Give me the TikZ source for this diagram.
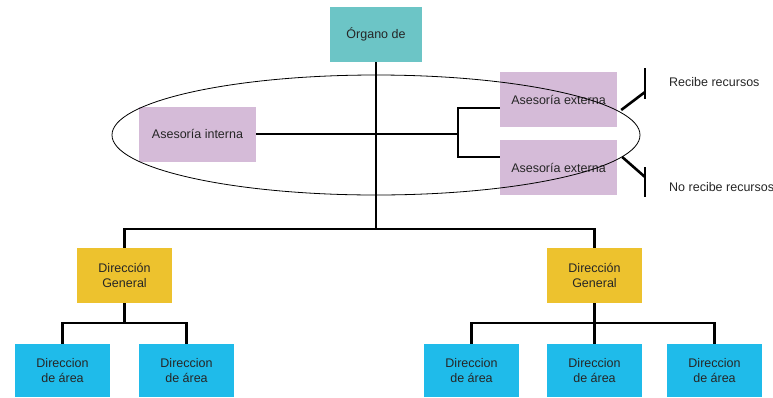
\documentclass[tikz,border=0pt]{standalone}
\usepackage{fontspec}
\setmainfont{Liberation Sans}
\definecolor{teal}{HTML}{6CC5C6}
\definecolor{lilac}{HTML}{D5BBD8}
\definecolor{gold}{HTML}{EDC22E}
\definecolor{sky}{HTML}{1FBBEA}
\begin{document}
\begin{tikzpicture}[x=1pt,y=-1pt,
  box/.style={inner sep=0pt,align=center,font=\fontsize{12.5}{15.5}\selectfont,text=black!85},
  organo/.style={box,fill=teal,minimum width=92pt,minimum height=55pt},
  asesoria/.style={box,fill=lilac,minimum width=117pt,minimum height=55pt},
  general/.style={box,fill=gold,minimum width=95pt,minimum height=55pt},
  area/.style={box,fill=sky,minimum width=95pt,minimum height=53pt},
  link/.style={line width=2.6pt,black},
  label/.style={anchor=west,inner sep=0pt,font=\fontsize{12.5}{14}\selectfont,text=black!85}]
\useasboundingbox (0,0) rectangle (773,397);

% boxes
\node[organo] (org) at (376,34.5) {Órgano de};
\node[asesoria] (ai) at (197.5,134) {Asesoría interna};
\node[asesoria] (ae1) at (558.5,99.5) {Asesoría externa};
\node[asesoria] (ae2) at (558.5,167.5) {Asesoría externa};
\node[general] (dg1) at (124.5,275.5) {Dirección\\General};
\node[general] (dg2) at (594.5,275.5) {Dirección\\General};
\node[area] (a1) at (62.5,370.5) {Direccion\\de área};
\node[area] (a2) at (186.5,370.5) {Direccion\\de área};
\node[area] (a3) at (471.5,370.5) {Direccion\\de área};
\node[area] (a4) at (594.5,370.5) {Direccion\\de área};
\node[area] (a5) at (714.5,370.5) {Direccion\\de área};

% side labels
\node[label] (rr) at (669,82) {Recibe recursos};
\node[label] (nr) at (669,187) {No recibe recursos};

% junctions
\coordinate (bus) at (376,229);
\coordinate (fork) at (458,134);
\coordinate (g1) at (124.5,323);
\coordinate (g2) at (594.5,323);
\coordinate (t1) at (645,92);
\coordinate (t2) at (645,177);

% main trunk and buses
\draw[link] (org.south) -- (bus);
\draw[link] (dg1.north) |- (bus) -| (dg2.north);
\draw[link] (ai.east) -- (ai.east -| org.south);
\draw[link] (org.south |- fork) -- (fork);
\draw[link] ([yshift=-8.5pt]ae1.west) -| (fork) |- ([yshift=10.5pt]ae2.west);

% area branches
\draw[link] (dg1.south) -- (g1);
\draw[link] (a1.north) |- (g1) -| (a2.north);
\draw[link] (dg2.south) -- (g2);
\draw[link] (a3.north) |- (g2) -| (a5.north);
\draw[link] (g2) -- (a4.north);

% resource markers
\draw[link] ([shift={(4pt,-10.5pt)}]ae1.east) -- (t1);
\draw[link] (645,68) -- (645,99);
\draw[link] ([shift={(5pt,10.5pt)}]ae2.east) -- (t2);
\draw[link] (645,167) -- (645,197);

% grouping ellipse
\draw[line width=0.8pt] (376,135) ellipse [x radius=264, y radius=60];
\end{tikzpicture}
\end{document}
